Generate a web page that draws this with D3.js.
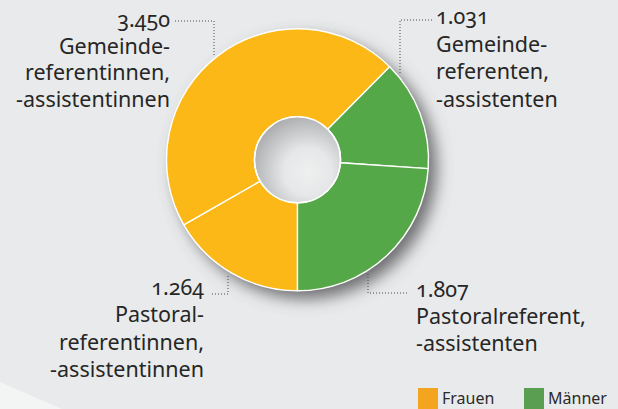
<!DOCTYPE html>
<html>
<head>
<meta charset="utf-8">
<script src="https://cdn.jsdelivr.net/npm/d3@7/dist/d3.min.js"></script>
<style>
  html, body { margin: 0; padding: 0; background: #e9eaeb; }
  svg { display: block; font-family: "Noto Sans", "Open Sans", sans-serif; }
  .lbl { font-size: 21.5px; fill: #262626; font-feature-settings: "onum"; }
  .leg { font-size: 16px; fill: #2b2b2b; }
</style>
</head>
<body>
<svg id="chart" width="618" height="409"></svg>
<script>
// data, clockwise starting at the bottom
const categories = ["Pastoralreferentinnen", "Gemeindereferentinnen", "Gemeindereferenten", "Pastoralreferenten"];
const values = [1264, 3450, 1031, 1807];
const genders = ["Frauen", "Frauen", "Männer", "Männer"];
const labelLines = [
  ["Pastoral-", "referentinnen,", "-assistentinnen"],
  ["Gemeinde-", "referentinnen,", "-assistentinnen"],
  ["Gemeinde-", "referenten,", "-assistenten"],
  ["Pastoralreferent,", "-assistenten"]
];
const legendKeys = ["Frauen", "Männer"];

const W = 618, H = 409;
const cx = 297.5, cy = 159.8, rOuter = 131, rInner = 43;

const de = d3.formatLocale({ decimal: ",", thousands: ".", grouping: [3], currency: ["", " €"] });
const fmt = de.format(",d");

const sliceColor = d3.scaleOrdinal(legendKeys, ["#fbb817", "#55a847"]);
const legendColor = d3.scaleOrdinal(legendKeys, ["#f3a51f", "#5a9e52"]);

const svg = d3.select("#chart");
const defs = svg.append("defs");

const shadow = defs.append("filter").attr("id", "shadow")
  .attr("x", "-30%").attr("y", "-30%").attr("width", "160%").attr("height", "160%");
shadow.append("feDropShadow")
  .attr("dx", 8).attr("dy", 8).attr("stdDeviation", 8)
  .attr("flood-color", "#58595b").attr("flood-opacity", 0.85);

const holeGrad = defs.append("radialGradient").attr("id", "hole")
  .attr("cx", 0.62).attr("cy", 0.64).attr("r", 0.7);
holeGrad.append("stop").attr("offset", 0).attr("stop-color", "#eeefef");
holeGrad.append("stop").attr("offset", 0.4).attr("stop-color", "#e6e7e8");
holeGrad.append("stop").attr("offset", 1).attr("stop-color", "#a8a9ab");

// light wedge in the lower left corner
svg.append("path")
  .attr("d", "M0,382L62," + H + "L0," + H + "Z")
  .attr("fill", "#f3f4f4");

const pie = d3.pie().sort(null).startAngle(Math.PI).endAngle(3 * Math.PI);
const arcs = pie(values);
const arc = d3.arc().innerRadius(rInner).outerRadius(rOuter);

const g = svg.append("g").attr("transform", `translate(${cx},${cy})`);

// shadow disc under the ring
g.append("circle").attr("r", rOuter).attr("fill", "#e9eaeb").attr("filter", "url(#shadow)");

g.selectAll("path.slice")
  .data(arcs)
  .join("path")
  .attr("class", "slice")
  .attr("d", arc)
  .attr("fill", (d, i) => sliceColor(genders[i]))
  .attr("stroke", "#fff")
  .attr("stroke-width", 1.4)
  .attr("stroke-linejoin", "round");

g.append("circle").attr("r", rInner).attr("fill", "url(#hole)")
  .attr("stroke", "#fff").attr("stroke-width", 1.6);

// labels with dotted leaders
const labelCfg = [
  { leaderX: 228, lineY: 294, lineFrom: 212, textX: 204, base: 295, step: 27.3, anchor: "end", below: true },
  { leaderX: 214, lineY: 21, lineFrom: 175, textX: 170, base: 27, step: 26.7, anchor: "end", below: false },
  { leaderX: 400, lineY: 20, lineFrom: 432, textX: 436, base: 24, step: 27.5, anchor: "start", below: false },
  { leaderX: 368, lineY: 293, lineFrom: 407, textX: 416, base: 297, step: 27, anchor: "start", below: true }
];
const rLead = rOuter + 3;

labelCfg.forEach((c, i) => {
  const dx = c.leaderX - cx;
  const dy = Math.sqrt(rLead * rLead - dx * dx);
  const yEnd = c.below ? cy + dy : cy - dy;
  svg.append("path")
    .attr("d", `M${c.lineFrom},${c.lineY}H${c.leaderX}V${yEnd}`)
    .attr("fill", "none")
    .attr("stroke", "#4a4a4a")
    .attr("stroke-width", 1)
    .attr("stroke-dasharray", "1,2");

  const t = svg.append("text").attr("class", "lbl")
    .attr("x", c.textX).attr("y", c.base)
    .attr("text-anchor", c.anchor);
  t.append("tspan").attr("x", c.textX).text(fmt(values[i]));
  labelLines[i].forEach((line) => {
    t.append("tspan").attr("x", c.textX).attr("dy", c.step).text(line);
  });
});

// legend
const legX = d3.scalePoint(legendKeys, [418, 524]);
const leg = svg.append("g").selectAll("g").data(legendKeys).join("g")
  .attr("transform", (d) => `translate(${legX(d)},388)`);
leg.append("rect").attr("width", 20).attr("height", 22).attr("fill", (d) => legendColor(d));
leg.append("text").attr("class", "leg").attr("x", 24).attr("y", 16).text((d) => d);
</script>
</body>
</html>
